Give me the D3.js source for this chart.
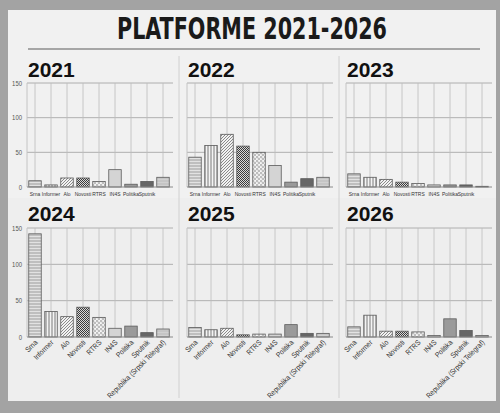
<!DOCTYPE html>
<html>
<head>
<meta charset="utf-8">
<script src="https://cdn.jsdelivr.net/npm/d3@7"></script>
<style>
  body { margin: 0; background: #9e9e9e; }
  svg { display: block; }
</style>
</head>
<body>
<div id="chart-area"></div>
<script>
// data
var categories = ["Srna", "Informer", "Alo", "Novosti", "RTRS", "IN4S", "Politika", "Sputnik", "Republika (Srpski Telegraf)"]
var years = ["2021", "2022", "2023", "2024", "2025", "2026"]
var v2021 = [9, 3, 13, 13, 8, 25, 4, 8, 14]
var v2022 = [43, 60, 76, 59, 50, 31, 7, 12, 14]
var v2023 = [19, 14, 11, 7, 5, 3, 3, 3, 1]
var v2024 = [142, 35, 28, 41, 27, 12, 15, 6, 11]
var v2025 = [13, 10, 12, 3, 4, 4, 17, 5, 5]
var v2026 = [14, 30, 8, 8, 7, 2, 25, 9, 2]
var yTicks = [0, 50, 100, 150]
var seriesByYear = [v2021, v2022, v2023, v2024, v2025, v2026]

var cw = 500, ch = 413
var smallFont = "'Liberation Sans', Arial, sans-serif"

var svg = d3.select("#chart-area").append("svg")
    .attr("width", cw)
    .attr("height", ch)

var defs = svg.append("defs")

// patterns per outlet
function pat(id, size, bg, draw) {
    var p = defs.append("pattern")
        .attr("id", id)
        .attr("patternUnits", "userSpaceOnUse")
        .attr("width", size)
        .attr("height", size)
    p.append("rect").attr("width", size).attr("height", size).attr("fill", bg)
    draw(p)
}
pat("p0", 3, "#e2e2e2", p => p.append("line").attr("x1", 0).attr("x2", 3).attr("y1", 1).attr("y2", 1).attr("stroke", "#8a8a8a").attr("stroke-width", 0.8))
pat("p1", 3, "#f4f4f4", p => p.append("line").attr("x1", 1).attr("x2", 1).attr("y1", 0).attr("y2", 3).attr("stroke", "#6a6a6a").attr("stroke-width", 0.9))
pat("p2", 3, "#f2f2f2", p => p.append("path").attr("d", "M0,3 L3,0 M-1,1 L1,-1 M2,4 L4,2").attr("stroke", "#707070").attr("stroke-width", 0.8))
pat("p3", 2, "#d8d8d8", p => {
    p.append("rect").attr("width", 1).attr("height", 1).attr("fill", "#3a3a3a")
    p.append("rect").attr("x", 1).attr("y", 1).attr("width", 1).attr("height", 1).attr("fill", "#3a3a3a")
})
pat("p4", 4, "#f6f6f6", p => {
    p.append("circle").attr("cx", 1).attr("cy", 1).attr("r", 0.9).attr("fill", "none").attr("stroke", "#777").attr("stroke-width", 0.5)
    p.append("circle").attr("cx", 3).attr("cy", 3).attr("r", 0.9).attr("fill", "none").attr("stroke", "#777").attr("stroke-width", 0.5)
})
pat("p5", 3, "#d4d4d4", p => {})
pat("p6", 3, "#9a9a9a", p => {})
pat("p7", 3, "#666666", p => {})
pat("p8", 3, "#d0d0d0", p => p.append("line").attr("x1", 0).attr("x2", 3).attr("y1", 1).attr("y2", 1).attr("stroke", "#aaaaaa").attr("stroke-width", 0.6))

var fills = d3.scaleOrdinal()
    .domain(categories)
    .range(categories.map((c, i) => "url(#p" + i + ")"))

// paper
svg.append("rect")
    .attr("x", 0).attr("y", 0).attr("width", cw).attr("height", ch)
    .attr("fill", "#a3a3a3")
svg.append("rect")
    .attr("x", 8).attr("y", 10).attr("width", 488).attr("height", 391)
    .attr("fill", "#f1f1f1")
svg.append("rect")
    .attr("x", 8).attr("y", 198).attr("width", 488).attr("height", 203)
    .attr("fill", "#eeeeee")

// title
svg.append("text")
    .attr("x", 252)
    .attr("y", 39)
    .attr("text-anchor", "middle")
    .attr("font-family", "'DejaVu Sans Condensed', 'Liberation Sans', sans-serif")
    .attr("font-weight", "bold")
    .attr("font-size", "30px")
    .attr("textLength", 270)
    .attr("lengthAdjust", "spacingAndGlyphs")
    .attr("fill", "#1a1a1a")
    .text("PLATFORME 2021-2026")

svg.append("line")
    .attr("x1", 28).attr("x2", 480)
    .attr("y1", 49).attr("y2", 49)
    .attr("stroke", "#8c8c8c")
    .attr("stroke-width", 1.5)

// panel separators
;[179, 339].forEach(x => {
    svg.append("line")
        .attr("x1", x).attr("x2", x)
        .attr("y1", 56).attr("y2", 398)
        .attr("stroke", "#d0d0d0")
})

var colX = [27, 187, 346]
var rowY = [{t: 83, b: 187, title: 77}, {t: 228, b: 337, title: 221}]
var pw = 144

var y = d3.scaleLinear().domain([0, 150])

years.forEach((yr, i) => {
    var col = i % 3, row = Math.floor(i / 3)
    var x0 = colX[col], r = rowY[row]
    var data = categories.map((c, k) => ({cat: c, value: seriesByYear[i][k]}))

    var x = d3.scaleBand()
        .domain(categories)
        .range([x0, x0 + pw])
        .paddingInner(0.22)
        .paddingOuter(0.11)
    var yy = y.copy().range([r.b, r.t])

    var g = svg.append("g")

    g.append("text")
        .attr("x", x0 + 1)
        .attr("y", r.title)
        .attr("font-family", "'Liberation Sans', Arial, sans-serif")
        .attr("font-weight", "bold")
        .attr("font-size", "21px")
        .attr("fill", "#111")
        .text(yr)

    // horizontal grid
    g.selectAll(".hg").data(yTicks.slice(1)).enter().append("line")
        .attr("x1", x0).attr("x2", x0 + pw + 2)
        .attr("y1", d => yy(d)).attr("y2", d => yy(d))
        .attr("stroke", "#a0a0a0")
        .attr("stroke-width", 0.8)

    // vertical grid through band centers
    g.selectAll(".vg").data(categories).enter().append("line")
        .attr("x1", d => x(d) + x.bandwidth() / 2)
        .attr("x2", d => x(d) + x.bandwidth() / 2)
        .attr("y1", r.t).attr("y2", r.b)
        .attr("stroke", "#bdbdbd")
        .attr("stroke-width", 0.8)

    g.append("line")
        .attr("x1", x0).attr("x2", x0)
        .attr("y1", r.t).attr("y2", r.b)
        .attr("stroke", "#c4c4c4")

    g.selectAll(".bar").data(data).enter().append("rect")
        .attr("x", d => x(d.cat))
        .attr("y", d => yy(d.value))
        .attr("width", x.bandwidth())
        .attr("height", d => r.b - yy(d.value))
        .attr("fill", d => fills(d.cat))
        .attr("stroke", "#5a5a5a")
        .attr("stroke-width", 0.8)

    g.append("line")
        .attr("x1", x0).attr("x2", x0 + pw + 2)
        .attr("y1", r.b).attr("y2", r.b)
        .attr("stroke", "#8a8a8a")

    if (col === 0) {
        var ax = g.append("g")
            .attr("transform", "translate(" + (x0 - 5) + ",0)")
            .call(d3.axisLeft(yy).tickValues(yTicks).tickSize(0).tickPadding(0))
        ax.select(".domain").remove()
        ax.selectAll("text")
            .attr("font-family", smallFont)
            .attr("font-size", "7px")
            .attr("fill", "#555")
            .attr("transform", "scale(0.85,1)")
    }

    var bx = g.append("g")
        .attr("transform", "translate(0," + r.b + ")")
        .call(d3.axisBottom(x).tickSize(0).tickPadding(4)
            .tickFormat(d => (row === 0 && d === categories[8]) ? "" : d))
    bx.select(".domain").remove()
    var t = bx.selectAll("text")
        .attr("font-family", smallFont)
        .attr("fill", "#333")
    if (row === 0) {
        t.attr("font-size", "6.2px").attr("y", 5)
            .attr("transform", "scale(0.8,1)")
    } else {
        t.attr("font-size", "7.5px")
            .attr("text-anchor", "end")
            .attr("dy", "0")
            .attr("y", 0)
            .attr("transform", "translate(3,6) rotate(-45) scale(0.88,1)")
    }
})
</script>
</body>
</html>
